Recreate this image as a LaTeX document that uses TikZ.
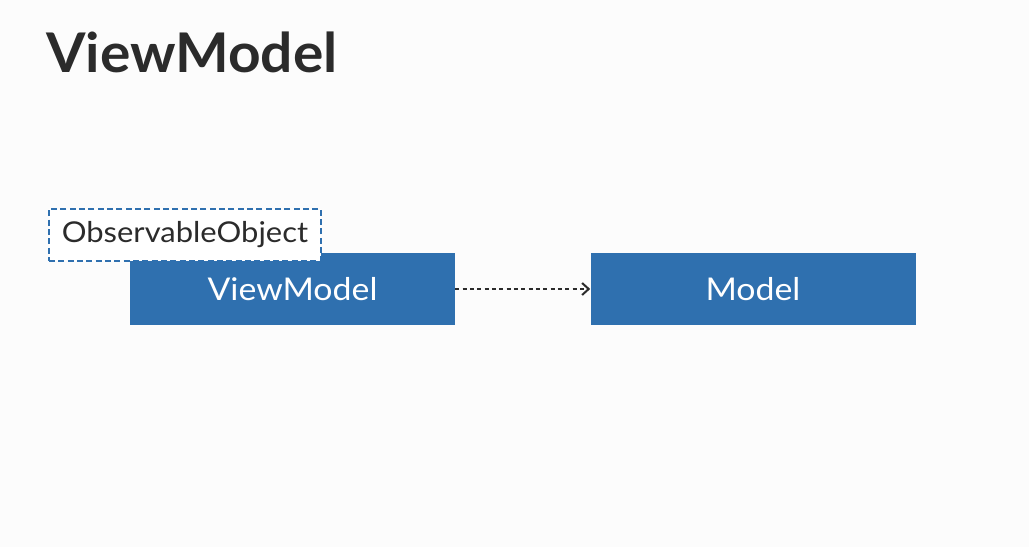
\documentclass[tikz,border=0pt]{standalone}
\usepackage{fontspec}
\setmainfont{Lato}[FakeStretch=1.08]
\newfontfamily\titlefont{Lato}[FakeStretch=1.04]
\usetikzlibrary{arrows.meta}
\definecolor{vmblue}{HTML}{2F70AF}
\definecolor{vmtext}{HTML}{2B2B2B}
\definecolor{vmback}{HTML}{FCFCFC}
\begin{document}
\begin{tikzpicture}[x=0.75pt, y=-0.75pt]
        \fill[vmback] (0,0) rectangle (1029,547); \useasboundingbox (0,0) rectangle (1029,547);
        \coordinate (vmc) at (292.5,289); \coordinate (mc) at (753,289); \coordinate (ooc) at (185,235);
        \node[anchor=base west, inner sep=0pt, text=vmtext, font=\titlefont\fontsize{41}{45}\selectfont\bfseries] (title) at (46,72) {ViewModel};
        \node[fill=vmblue, text=white, minimum width=243.75pt, minimum height=54pt, font=\fontsize{23.5}{26}\selectfont] (vm) at (vmc) {ViewModel};
        \node[fill=vmblue, text=white, minimum width=243.75pt, minimum height=54pt, font=\fontsize{23.5}{26}\selectfont] (m) at (mc) {Model};
        \node[fill=white, draw=vmblue, line width=1.5pt, dash pattern=on 4.5pt off 2.5pt, minimum width=204pt, minimum height=39pt, font=\fontsize{21.5}{24}\selectfont, text=vmtext] (oo) at (ooc) {ObservableObject};
        \draw[vmtext, line width=1.5pt, dash pattern=on 3pt off 2.5pt, -{Straight Barb[length=5pt, width=9pt]}] (vm.east) -- (m.west);
    \end{tikzpicture}
\end{document}
